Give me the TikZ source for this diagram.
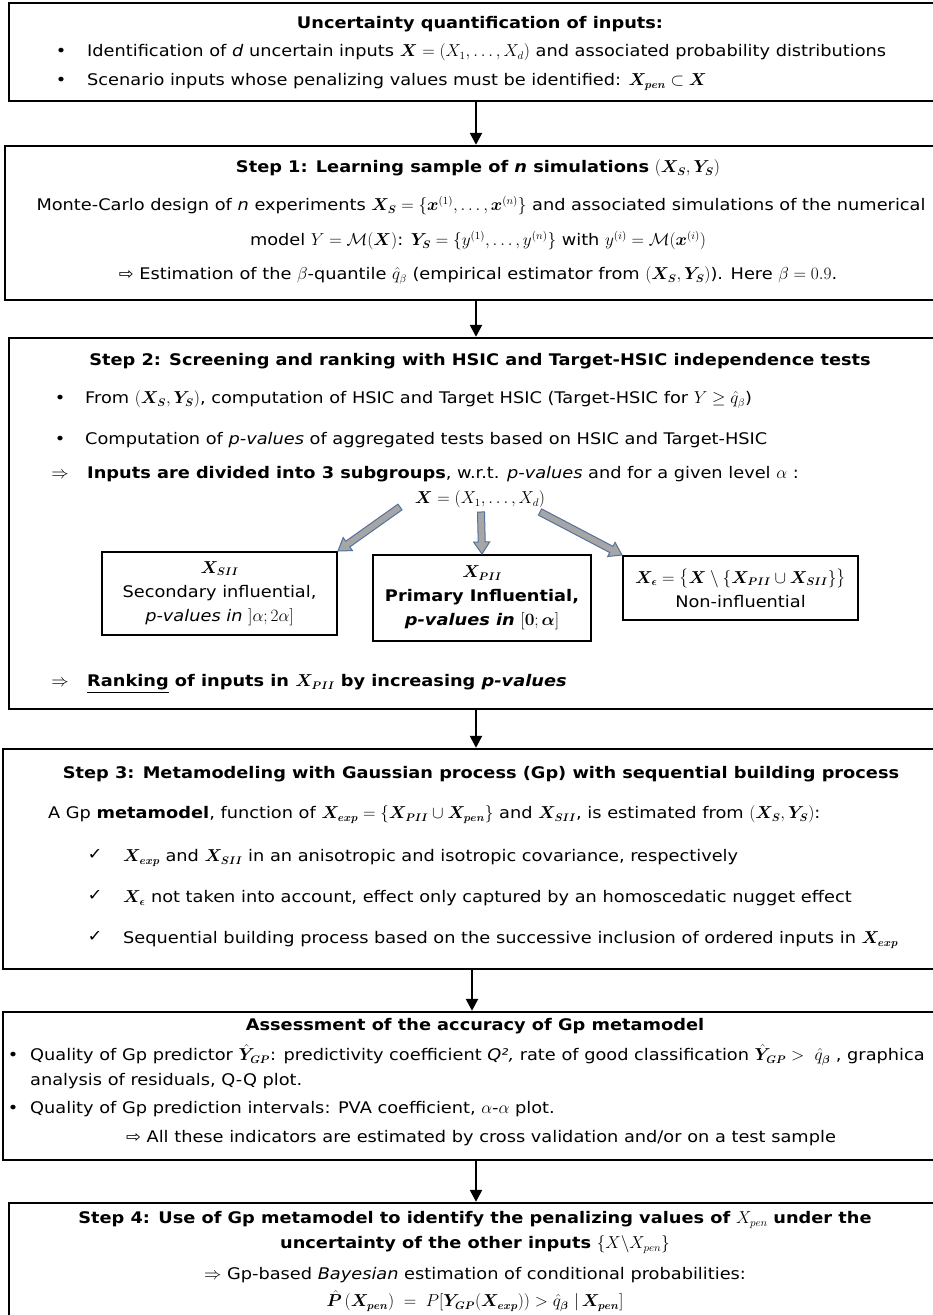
\documentclass[tikz,border=0pt]{standalone}
\usepackage{fontspec}
\setmainfont{DejaVu Sans}[FakeStretch=1.11]
\usepackage{amsmath,amssymb,bm}
\usetikzlibrary{arrows.meta,calc}
\definecolor{fatgray}{RGB}{166,166,166}
\definecolor{fatblue}{RGB}{84,114,156}
\newcommand\fatarrow[2]{%
  \coordinate (fh) at ($(#2)!12pt!(#1)$);
  \filldraw[fat] ($(#1)!3.5pt!90:(#2)$) -- ($(fh)!3.5pt!-90:(#1)$) -- ($(fh)!8pt!-90:(#1)$) -- (#2)
     -- ($(fh)!8pt!90:(#1)$) -- ($(fh)!3.5pt!90:(#1)$) -- ($(#1)!3.5pt!-90:(#2)$) -- cycle;}
\begin{document}
\begin{tikzpicture}[x=1pt,y=-1pt,
  box/.style={draw=black, line width=2.4pt, inner sep=0pt},
  subbox/.style={draw=black, line width=2pt, align=center, inner sep=0pt},
  ln/.style={inner sep=0pt, text height=11pt, text depth=3.5pt, anchor=west},
  lc/.style={inner sep=0pt, text height=11pt, text depth=3.5pt, anchor=center},
  flow/.style={line width=2.4pt, -{Triangle[length=12pt,width=12pt]}},
  fat/.style={fill=fatgray, draw=fatblue, line width=1pt, line join=miter},
  every node/.append style={font=\fontsize{16}{24}\selectfont}
]
\useasboundingbox (0,0) rectangle (933,1315);
\fill[white] (0,0) rectangle (933,1315);

% main boxes
\node[box, minimum width=941pt, minimum height=98pt]  (b1) at (479.5,52) {};
\node[box, minimum width=945pt, minimum height=154pt] (b2) at (477.5,223) {};
\node[box, minimum width=941pt, minimum height=371pt] (b3) at (479.5,523.5) {};
\node[box, minimum width=947pt, minimum height=220pt] (b4) at (476.5,859) {};
\node[box, minimum width=947pt, minimum height=148pt] (b5) at (476.5,1086) {};
\node[box, minimum width=941pt, minimum height=127pt] (b6) at (479.5,1266.5) {};

% connectors
\coordinate (ax) at (476,0);
\coordinate (ay) at (472,0);
\draw[flow] (b1.south -| ax) -- (b2.north -| ax);
\draw[flow] (b2.south -| ax) -- (b3.north -| ax);
\draw[flow] (b3.south -| ax) -- (b4.north -| ax);
\draw[flow] (b4.south -| ay) -- (b5.north -| ay);
\draw[flow] (b5.south -| ax) -- (b6.north -| ax);

% box 1
\node[lc] (t1) at (480,25) {\textbf{Uncertainty quantification of inputs:}};
\node[lc] (p11) at (61,53) {•};
\node[ln] (l11) at (87,53) {Identification of \textit{d} uncertain inputs $\bm{X}=(X_1,\dots,X_d)$ and associated probability distributions};
\node[lc] (p12) at (61,82) {•};
\node[ln] (l12) at (87,82) {Scenario inputs whose penalizing values must be identified: $\bm{X_{pen}}\subset\bm{X}$};

% box 2
\node[lc] (t2) at (478,169) {\textbf{Step 1: Learning sample of \textit{n} simulations} $(\bm{X_S},\bm{Y_S})$};
\node[lc] (l21) at (481,207) {Monte-Carlo design of \textit{n} experiments $\bm{X_S}=\{\bm{x}^{(1)},\dots,\bm{x}^{(n)}\}$ and associated simulations of the numerical};
\node[lc] (l22) at (478,242) {model $Y=\mathcal{M}(\bm{X})$: $\bm{Y_S}=\{y^{(1)},\dots,y^{(n)}\}$ with $y^{(i)}=\mathcal{M}(\bm{x}^{(i)})$};
\node[lc] (l23) at (478,276) {⇨ Estimation of the $\beta$-quantile $\hat q_\beta$ (empirical estimator from $(\bm{X_S},\bm{Y_S})$). Here $\beta=0.9$.};

% box 3
\node[lc] (t3) at (480,362) {\textbf{Step 2: Screening and ranking with HSIC and Target-HSIC independence tests}};
\node[lc] (p31) at (60,400) {•};
\node[ln] (l31) at (85,400) {From $(\bm{X_S},\bm{Y_S})$, computation of HSIC and Target HSIC (Target-HSIC for $Y\geq\hat q_\beta$)};
\node[lc] (p32) at (60,441) {•};
\node[ln] (l32) at (85,441) {Computation of \textit{p-values} of aggregated tests based on HSIC and Target-HSIC};
\node[lc] (p33) at (60,475) {$\Rightarrow$};
\node[ln] (l33) at (87,475) {\textbf{Inputs are divided into 3 subgroups}, w.r.t. \textit{p-values} and for a given level $\alpha$ :};
\node[lc] (xall) at (480,500) {$\bm{X}=(X_1,\dots,X_d)$};
\node[subbox, minimum width=235pt, minimum height=83pt] (sii) at (219.5,593.5)
  {$\bm{X_{SII}}$\\Secondary influential,\\\textit{p-values in} $]\alpha;2\alpha]$};
\node[subbox, minimum width=218pt, minimum height=86pt] (pii) at (482,598)
  {$\bm{X_{PII}}$\\\textbf{Primary Influential,}\\\textbf{\textit{p-values in}} $[\bm{0};\bm{\alpha}]$};
\node[subbox, minimum width=235pt, minimum height=64pt] (eps) at (740.5,588)
  {$\bm{X_\epsilon}=\bigl\{\bm{X}\setminus\{\bm{X_{PII}}\cup\bm{X_{SII}}\}\bigr\}$\\Non-influential};
\coordinate (sl) at (400,507);
\coordinate (sm) at (481,512);
\coordinate (sr) at (540,512);
\fatarrow{sl}{sii.north east}
\fatarrow{sm}{pii.north}
\fatarrow{sr}{eps.north west}
\node[lc] (p34) at (60,683) {$\Rightarrow$};
\node[ln] (l34) at (87,683) {\textbf{\underline{Ranking} of inputs in $\bm{X_{PII}}$ by increasing \textit{p-values}}};

% box 4
\node[lc] (t4) at (481,775) {\textbf{Step 3: Metamodeling with Gaussian process (Gp) with sequential building process}};
\node[ln] (l41) at (48,815) {A Gp \textbf{metamodel}, function of $\bm{X_{exp}}=\{\bm{X_{PII}}\cup\bm{X_{pen}}\}$ and $\bm{X_{SII}}$, is estimated from $(\bm{X_S},\bm{Y_S})$:};
\node[lc] (c41) at (95,856) {✓};
\node[ln] (l42) at (123,858) {$\bm{X_{exp}}$ and $\bm{X_{SII}}$ in an anisotropic and isotropic covariance, respectively};
\node[lc] (c42) at (95,897) {✓};
\node[ln] (l43) at (123,899) {$\bm{X_\epsilon}$ not taken into account, effect only captured by an homoscedatic nugget effect};
\node[lc] (c43) at (95,938) {✓};
\node[ln] (l44) at (123,940) {Sequential building process based on the successive inclusion of ordered inputs in $\bm{X_{exp}}$};

% box 5
\node[lc] (t5) at (475,1027) {\textbf{Assessment of the accuracy of Gp metamodel}};
\node[lc] (p51) at (13,1057) {•};
\node[ln] (l51) at (30,1057) {Quality of Gp predictor $\hat{\bm{Y}}_{\bm{GP}}$: predictivity coefficient \textit{Q²,} rate of good classification $\hat{\bm{Y}}_{\bm{GP}}>\ \hat q_{\bm\beta}$ , graphica};
\node[ln] (l52) at (30,1082) {analysis of residuals, Q-Q plot.};
\node[lc] (p52) at (13,1110) {•};
\node[ln] (l53) at (30,1110) {Quality of Gp prediction intervals: PVA coefficient, $\alpha$-$\alpha$ plot.};
\node[lc] (l54) at (481,1139) {⇨ All these indicators are estimated by cross validation and/or on a test sample};

% box 6
\node[lc] (t6) at (475,1220) {\textbf{Step 4: Use of Gp metamodel to identify the penalizing values of} $X_{pen}$ \textbf{under the}};
\node[lc] (t6b) at (475,1245) {\textbf{uncertainty of the other inputs} $\{X\backslash X_{pen}\}$};
\node[lc] (l61) at (475,1276) {$\Rightarrow$ Gp-based \textit{Bayesian} estimation of conditional probabilities:};
\node[lc] (l62) at (475,1303) {$\hat{\bm{P}}\,(\bm{X_{pen}})\;=\;P[\bm{Y_{GP}}(\bm{X_{exp}}))>\hat q_{\bm\beta}\ |\,\bm{X_{pen}}]$};
\end{tikzpicture}
\end{document}
